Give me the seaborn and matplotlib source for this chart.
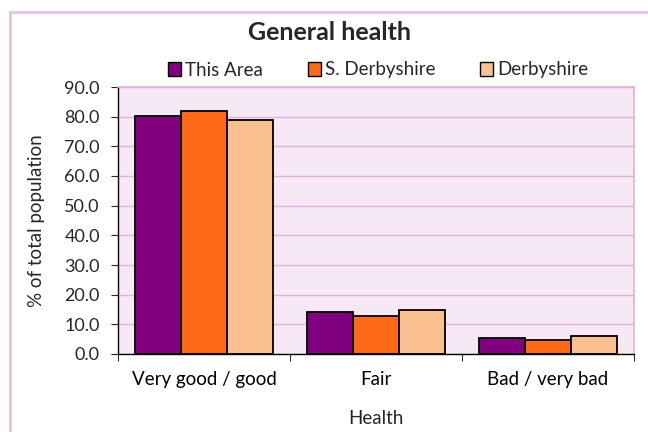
import matplotlib
matplotlib.use("Agg")
import matplotlib.pyplot as plt
from matplotlib.patches import Patch, Rectangle
from matplotlib.ticker import FixedLocator, FormatStrFormatter
import seaborn as sns
import pandas as pd

# values
categories = ["Very good / good", "Fair", "Bad / very bad"]
areas = ["This Area", "S. Derbyshire", "Derbyshire"]
this_area = [80.1, 14.2, 5.3]
s_derbyshire = [81.8, 12.9, 4.7]
derbyshire = [78.8, 14.8, 6.1]
colors = ["#800080", "#FF6A18", "#FAC090"]

df = pd.DataFrame({
    "Health": categories * 3,
    "Area": [a for a in areas for _ in categories],
    "value": this_area + s_derbyshire + derbyshire,
})

sns.set_style("white")
plt.rcParams["font.family"] = ["Lato", "DejaVu Sans"]

fs = 13.5
grid_col = "#DFB3DB"
fig = plt.figure(figsize=(6.48, 4.32), dpi=100)
ax = fig.add_axes([118 / 648, 1 - 354 / 432, 516 / 648, 267 / 432])
ax.set_facecolor("#F7E8F5")

sns.barplot(data=df, x="Health", y="value", hue="Area", palette=colors,
            hue_order=areas, order=categories, width=0.8, saturation=1,
            edgecolor="black", linewidth=1.3, ax=ax)
ax.get_legend().remove()

ax.set_ylim(0, 90)
ax.set_xlim(-0.5, 2.5)
ax.yaxis.set_major_locator(FixedLocator(range(0, 91, 10)))
ax.yaxis.set_major_formatter(FormatStrFormatter("%.1f"))
ax.grid(axis="y", color=grid_col, linewidth=1)
ax.set_axisbelow(True)

ax.xaxis.set_minor_locator(FixedLocator([-0.5, 0.5, 1.5, 2.5]))
ax.tick_params(axis="x", which="major", length=0, pad=12, labelsize=fs, colors="black")
ax.tick_params(axis="x", which="minor", length=5, direction="out", color="black", bottom=True)
ax.tick_params(axis="y", length=5, direction="out", left=True, pad=8, labelsize=13)

for s in ["left", "bottom"]:
    ax.spines[s].set_color("black")
    ax.spines[s].set_linewidth(1)
for s in ["top", "right"]:
    ax.spines[s].set_color(grid_col)
    ax.spines[s].set_linewidth(1.2)

ax.set_xlabel("Health", fontsize=fs)
ax.xaxis.set_label_coords(0.5, -0.24)
ax.xaxis.label.set_va("center")
ax.set_ylabel("% of total population", fontsize=fs)
ax.yaxis.set_label_coords(-0.157, 0.5)
ax.yaxis.label.set_va("center")

fig.text(330 / 648, 1 - 33 / 432, "General health", fontsize=18,
         fontweight="bold", ha="center", va="center")

handles = [Patch(facecolor=c, edgecolor="black", linewidth=1) for c in colors]
fig.legend(handles, areas, loc="center", bbox_to_anchor=(378 / 648, 1 - 70 / 432),
           ncol=3, frameon=False, fontsize=fs, handlelength=0.7, handleheight=0.7,
           handletextpad=0.2, columnspacing=2.4)

# outer chart border
fig.patches.append(Rectangle((10 / 648, -0.1), 1.1, 1.1 - 12 / 432,
                             transform=fig.transFigure, fill=False,
                             edgecolor="#E2C2E0", linewidth=2))

fig.savefig("out.png", dpi=100)
